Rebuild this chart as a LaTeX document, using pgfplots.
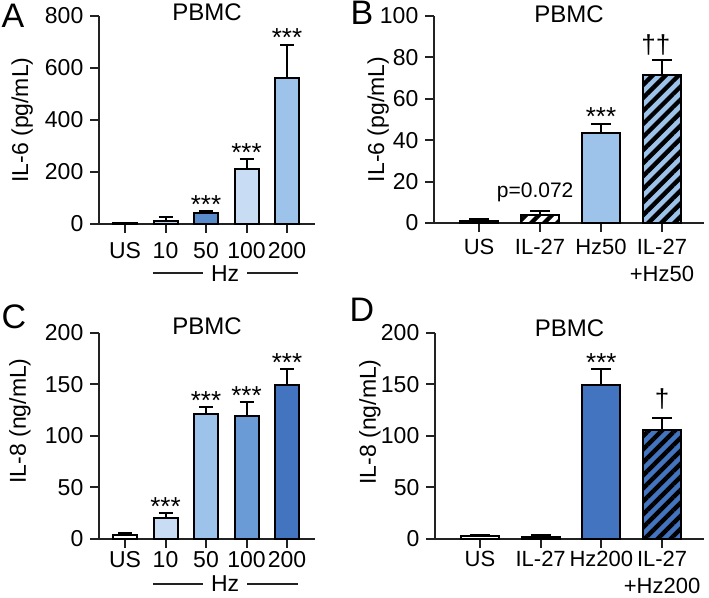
\documentclass[border=0pt]{standalone}
\usepackage{fontspec}
\setmainfont{Liberation Sans}
\usepackage{pgfplots}
\pgfplotsset{compat=1.18}
\usetikzlibrary{patterns.meta}
\definecolor{lt}{HTML}{C8DDF3}
\definecolor{ltb}{HTML}{BCD6F0}
\definecolor{mid}{HTML}{9DC3EA}
\definecolor{aft}{HTML}{5A8BCB}
\definecolor{mdk}{HTML}{6B9BD6}
\definecolor{dk}{HTML}{4374BF}
\definecolor{axc}{HTML}{222222}

\pgfplotsset{
  panel/.style={
    scale only axis, clip=false,
    axis x line=bottom, axis y line=left,
    axis line style={-, line width=1pt, color=axc},
    tick style={line width=1pt, color=axc},
    tick align=outside, major tick length=4.3pt,
    ymin=0, xtick={0,1,2,3,4},
    font=\fontsize{11.5}{13.5}\selectfont,
    /pgf/number format/assume math mode=true,
    xticklabel style={align=center},
    title=PBMC,
    title style={at={(rel axis cs:0.5,1)}, anchor=center, font=\fontsize{12}{12}\selectfont},
    ylabel style={anchor=center},
  },
  hb/.style={ybar, bar shift=0pt, draw=black, line width=1pt,
    error bars/.cd, y dir=plus, y explicit,
    error bar style={line width=1pt, color=black},
    error mark options={rotate=90, mark size=#1, line width=1pt, color=black}},
}
\tikzset{
  star/.style={anchor=base, inner sep=0pt, yshift=-1pt, font=\fontsize{13}{13}\selectfont},
  dag/.style={anchor=south, inner sep=0pt, font=\fontsize{13}{13}\selectfont},
  hatch/.style={postaction={pattern={Lines[angle=45,distance=4.6pt,line width=2.2pt]}, pattern color=black}},
  letter/.style={font=\fontsize{17}{17}\selectfont, inner sep=0pt},
  hz/.style={fill=white, inner xsep=4pt, inner ysep=0pt},
}

\begin{document}
\begin{tikzpicture}
\useasboundingbox (0,0) rectangle (354.5pt,299pt);
\node[letter] at (6.5pt,291pt) {A};
\node[letter] at (181pt,292.5pt) {B};
\node[letter] at (7pt,140.5pt) {C};
\node[letter] at (181pt,144pt) {D};

% A
\begin{axis}[panel, at={(49.5pt,187pt)}, anchor=south west,
  width=108pt, height=104pt, xmin=-0.642, xmax=4.69,
  ymax=800, ytick={0,200,...,800},
  xticklabels={US,10,50,100,200}, xticklabel style={inner ysep=1pt, yshift=-3.6pt},
  ylabel={IL-6 (pg/mL)}, ylabel style={at={(rel axis cs:-0.356,0.5)}},
  title style={yshift=-4.25pt}]
\addplot[fill=white, bar width=12pt, hb=3.5pt] coordinates {(0,2) +- (0,2)};
\addplot[fill=ltb, bar width=12pt, hb=3.5pt] coordinates {(1,12) +- (0,13)};
\addplot[fill=aft, bar width=12pt, hb=3.5pt] coordinates {(2,43) +- (0,6)};
\addplot[fill=lt, bar width=12pt, hb=3.5pt] coordinates {(3,212) +- (0,37)};
\addplot[fill=mid, bar width=12pt, hb=3.5pt] coordinates {(4,562) +- (0,127)};
\node[star] at (axis cs:2,49) {***};
\node[star] at (axis cs:3,249) {***};
\node[star] at (axis cs:4,689) {***};
\draw[line width=1pt, color=axc] (axis cs:0.69,-190) -- (axis cs:4.27,-190);
\node[hz] at (axis cs:2.47,-190) {Hz};
\end{axis}

% B
\begin{axis}[panel, at={(217pt,187.5pt)}, anchor=south west,
  width=135pt, height=103.5pt, xmin=-0.74, xmax=3.69,
  ymax=100, ytick={0,20,...,100}, xtick={0,1,2,3},
  xticklabels={US,IL-27,Hz50,IL-27\\+Hz50},
  xticklabel style={font=\fontsize{11}{13.5}\selectfont},
  ylabel={IL-6 (pg/mL)}, ylabel style={at={(rel axis cs:-0.207,0.5)}},
  title style={yshift=-5.25pt}]
\addplot[fill=white, bar width=19pt, hb=5pt] coordinates {(0,1.1) +- (0,0.9)};
\addplot[fill=white, hatch, bar width=19pt, hb=5pt] coordinates {(1,4.0) +- (0,1.9)};
\addplot[fill=mid, bar width=19pt, hb=5pt] coordinates {(2,43.7) +- (0,4.2)};
\addplot[fill=mid, hatch, bar width=19pt, hb=5pt] coordinates {(3,71.5) +- (0,7)};
\node[anchor=base, font=\fontsize{10.5}{10.5}\selectfont, yshift=6.8pt] at (axis cs:0.92,5.9) {p=0.072};
\node[star] at (axis cs:2,47.9) {***};
\node[dag, yshift=2.5pt] at (axis cs:2.9,78.5) {††};
\end{axis}

% C
\begin{axis}[panel, at={(49.5pt,29.5pt)}, anchor=south west,
  width=108pt, height=103pt, xmin=-0.642, xmax=4.69,
  ymax=200, ytick={0,50,...,200},
  xticklabels={US,10,50,100,200}, xticklabel style={yshift=1.5pt},
  ylabel={IL-8 (ng/mL)}, ylabel style={at={(rel axis cs:-0.366,0.573)}},
  title style={yshift=-2.8pt}]
\addplot[fill=white, bar width=12pt, hb=3.5pt] coordinates {(0,3.9) +- (0,1.6)};
\addplot[fill=lt, bar width=12pt, hb=3.5pt] coordinates {(1,20.4) +- (0,4.6)};
\addplot[fill=mid, bar width=12pt, hb=3.5pt] coordinates {(2,121.2) +- (0,6.8)};
\addplot[fill=mdk, bar width=12pt, hb=3.5pt] coordinates {(3,119) +- (0,13.9)};
\addplot[fill=dk, bar width=12pt, hb=3.5pt] coordinates {(4,149.4) +- (0,15.3)};
\node[star] at (axis cs:1,25) {***};
\node[star] at (axis cs:2,128) {***};
\node[star] at (axis cs:3,132.9) {***};
\node[star] at (axis cs:4,164.7) {***};
\draw[line width=1pt, color=axc] (axis cs:0.69,-43.7) -- (axis cs:4.27,-43.7);
\node[hz] at (axis cs:2.47,-43.7) {Hz};
\end{axis}

% D
\begin{axis}[panel, at={(217.5pt,29.5pt)}, anchor=south west,
  width=134.5pt, height=103pt, xmin=-0.74, xmax=3.69,
  ymax=200, ytick={0,50,...,200}, xtick={0,1,2,3},
  xticklabels={US,IL-27,Hz200,IL-27\\+Hz200},
  xticklabel style={yshift=2pt, font=\fontsize{11}{13.5}\selectfont},
  ylabel={IL-8 (ng/mL)}, ylabel style={at={(rel axis cs:-0.242,0.568)}},
  title style={yshift=-3.5pt}]
\addplot[fill=white, bar width=19pt, hb=5pt] coordinates {(0,2.9) +- (0,1.3)};
\addplot[fill=white, hatch, bar width=19pt, hb=5pt] coordinates {(1,1.9) +- (0,1.7)};
\addplot[fill=dk, bar width=19pt, hb=5pt] coordinates {(2,149.4) +- (0,15.2)};
\addplot[fill=dk, hatch, bar width=19pt, hb=5pt] coordinates {(3,105.8) +- (0,12.1)};
\node[star] at (axis cs:2,164.6) {***};
\node[dag, yshift=3.75pt] at (axis cs:3,117.9) {†};
\end{axis}
\end{tikzpicture}
\end{document}
